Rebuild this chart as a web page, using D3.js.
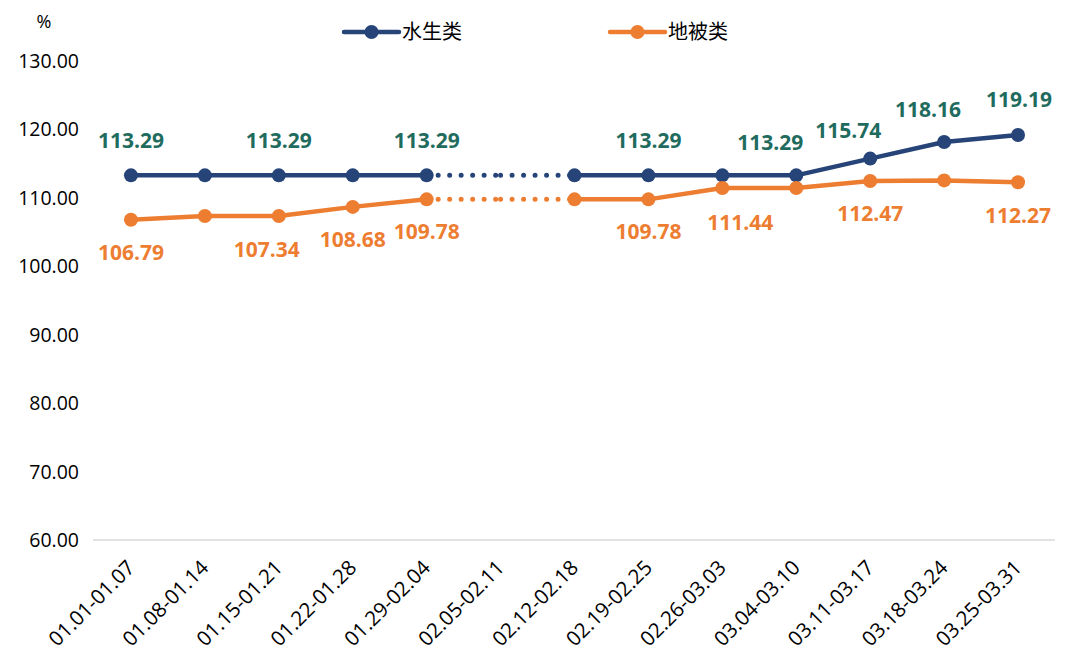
<!DOCTYPE html>
<html><head><meta charset="utf-8">
<script src="https://cdn.jsdelivr.net/npm/d3@7"></script>
<style>
html,body{margin:0;padding:0;background:#fff;}
text{font-family:"Open Sans","Noto Sans","Noto Sans CJK SC",sans-serif;}
</style></head>
<body><svg id="c" width="1080" height="663"></svg>
<script>
const categories = ["01.01-01.07","01.08-01.14","01.15-01.21","01.22-01.28","01.29-02.04","02.05-02.11","02.12-02.18","02.19-02.25","02.26-03.03","03.04-03.10","03.11-03.17","03.18-03.24","03.25-03.31"];
const aquatic = [113.29,113.29,113.29,113.29,113.29,null,113.29,113.29,113.29,113.29,115.74,118.16,119.19];
const ground  = [106.79,107.34,107.34,108.68,109.78,null,109.78,109.78,111.44,111.44,112.47,112.55,112.27];
const seriesNames = ["水生类","地被类"];
const yTicks = [60,70,80,90,100,110,120,130];
const aquaticLabelIdx = [0,2,4,7,9,10,11,12];
const groundLabelIdx = [0,2,3,4,7,8,10,12];

const svg = d3.select("#c");
const x = d3.scalePoint().domain(categories).range([94,1055]).padding(0.5);
const y = d3.scaleLinear().domain([60,130]).range([540,61]);
const blue = "#264478", orange = "#ED7D31", blueLbl = "#1F6B5E";

// baseline
svg.append("line").attr("x1",93).attr("x2",1055).attr("y1",y(60)).attr("y2",y(60))
  .attr("stroke","#d9d9d9").attr("stroke-width",1.3);

// y labels
svg.selectAll(".yl").data(yTicks).enter().append("text")
  .attr("x",79).attr("y",d=>y(d)).attr("dy","0.36em").attr("text-anchor","end")
  .attr("font-size",19.5).attr("fill","#000").text(d=>d.toFixed(2));
svg.append("text").attr("x",44).attr("y",28).attr("text-anchor","middle").attr("font-size",18).text("%");

// x labels
svg.selectAll(".xl").data(categories).enter().append("text")
  .attr("transform",d=>`translate(${x(d)+5},${569}) rotate(-45)`)
  .attr("text-anchor","end").attr("font-size",20.5).attr("fill","#000").text(d=>d);

function drawSeries(vals,color){
  const g = svg.append("g");
  const line = d3.line().defined(d=>d!=null).x((d,i)=>x(categories[i])).y(d=>y(d));
  g.append("path").attr("d",line(vals)).attr("fill","none").attr("stroke",color)
    .attr("stroke-width",4.5).attr("stroke-linejoin","round");
  // dotted bridges over gaps
  vals.forEach((v,i)=>{
    if(v==null){
      let a=i-1,b=i+1;
      while(a>=0&&vals[a]==null)a--; while(b<vals.length&&vals[b]==null)b++;
      if(a>=0&&b<vals.length){
        const xa=x(categories[a]),xb=x(categories[b]),ya=y(vals[a]),yb=y(vals[b]);
        const xm=x(categories[i]),ym=ya+(yb-ya)*(xm-xa)/(xb-xa);
        [[xa,ya,xm,ym],[xm,ym,xb,yb]].forEach(s=>{
          g.append("line").attr("x1",s[0]).attr("y1",s[1]).attr("x2",s[2]).attr("y2",s[3])
            .attr("stroke",color).attr("stroke-width",5).attr("stroke-linecap","round")
            .attr("stroke-dasharray","0 11.5");
        });
      }
    }
  });
  g.selectAll("circle").data(vals.map((v,i)=>({v,i})).filter(d=>d.v!=null)).enter().append("circle")
    .attr("cx",d=>x(categories[d.i])).attr("cy",d=>y(d.v)).attr("r",7).attr("fill",color);
}
drawSeries(aquatic,blue);
drawSeries(ground,orange);

// data labels (nudges for crowded points)
const aqNudge = {9:[-26,2],10:[-22,6],11:[-16,2],12:[1,-1]};
aquaticLabelIdx.forEach(i=>{
  const n = aqNudge[i]||[0,0];
  svg.append("text").attr("x",x(categories[i])+n[0]).attr("y",y(aquatic[i])-27+n[1])
    .attr("text-anchor","middle").attr("font-size",21).attr("font-weight",700)
    .attr("fill",blueLbl).text(aquatic[i].toFixed(2));
});
const grNudge = {2:[-12,1],8:[18,2],12:[0,1]};
groundLabelIdx.forEach(i=>{
  const n = grNudge[i]||[0,0];
  svg.append("text").attr("x",x(categories[i])+n[0]).attr("y",y(ground[i])+40+n[1])
    .attr("text-anchor","middle").attr("font-size",21).attr("font-weight",700)
    .attr("fill",orange).text(ground[i].toFixed(2));
});

// legend
[[blue,344,seriesNames[0]],[orange,610,seriesNames[1]]].forEach(([c,lx,t])=>{
  svg.append("line").attr("x1",lx).attr("x2",lx+55).attr("y1",32).attr("y2",32)
    .attr("stroke",c).attr("stroke-width",4.5).attr("stroke-linecap","round");
  svg.append("circle").attr("cx",lx+27.5).attr("cy",32).attr("r",7).attr("fill",c);
  svg.append("text").attr("x",lx+58).attr("y",32).attr("dy","0.36em").attr("font-size",20)
    .attr("font-family","'Noto Sans CJK SC',sans-serif").text(t);
});
</script></body></html>
